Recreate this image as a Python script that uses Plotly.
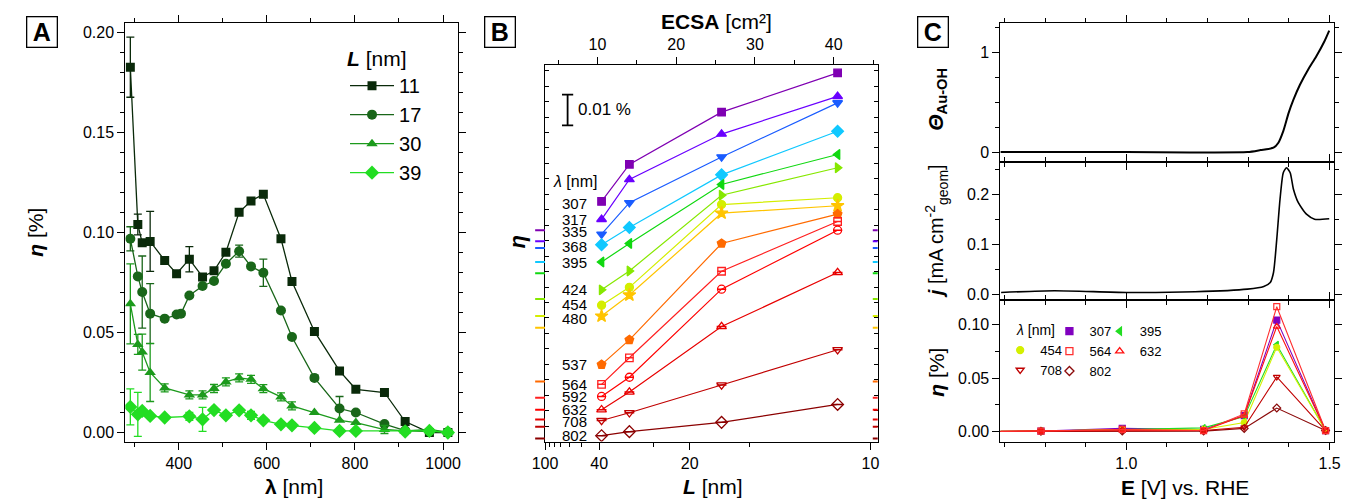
import plotly.graph_objects as go

# =========================== DATA ===========================
# ---- Panel A: eta vs wavelength for four thicknesses L [nm]
A_NAMES = ["11", "17", "30", "39"]
A_WL = [290, 307, 317, 335, 368, 395, 405, 424, 454, 480, 507, 537, 564, 592,
        632, 657, 708, 765, 802, 867, 914, 969, 1011]
A_ETA_11 = [0.1825, 0.1039, 0.0948, 0.0955, 0.0860, 0.0793, None, 0.0866, 0.0777, 0.0808,
            0.0901, 0.1100, 0.1157, 0.1190, 0.0968, 0.0755, 0.0505, 0.0308, 0.0216,
            0.0200, 0.0055, 0.0000, 0.0000]
A_ERR_11 = [0.015, 0.0052, None, 0.015, None, None, None, 0.0063, None, None,
            None, None, None, None, None, None, None, None, None,
            None, None, None, None]
A_ETA_17 = [0.0968, 0.0780, 0.0702, 0.0594, 0.0569, 0.0590, 0.0594, 0.0685, 0.0732, 0.0757,
            0.0843, 0.0906, 0.0830, 0.0798, 0.0610, 0.0477, 0.0273, 0.0120, 0.0100,
            0.0042, 0.0010, 0.0005, 0.0003]
A_ERR_17 = [0.006, None, 0.018, 0.015, None, None, None, None, None, None,
            None, 0.003, None, 0.0068, None, None, 0.0012, 0.006, None,
            None, None, None, None]
A_ETA_30 = [0.0643, 0.0440, 0.0402, 0.0300, 0.0223, None, None, 0.0188, 0.0188, 0.0220,
            0.0253, 0.0273, 0.0266, 0.0219, 0.0178, 0.0133, 0.0100, 0.0061, 0.0050,
            0.0015, 0.0008, 0.0015, 0.0002]
A_ERR_30 = [0.020, 0.005, 0.009, 0.0145, 0.002, None, None, 0.002, 0.002, 0.002,
            0.002, 0.002, 0.002, 0.002, 0.002, 0.002, None, None, None,
            0.002, None, None, None]
A_ETA_39 = [0.0128, 0.0091, 0.0108, 0.0083, 0.0075, None, None, 0.0081, 0.0066, 0.0112,
            0.0086, 0.0111, 0.0086, 0.0061, 0.0041, 0.0036, 0.0023, 0.0008, 0.0008,
            None, 0.0005, 0.0008, 0.0000]
A_ERR_39 = [0.009, 0.011, None, None, None, None, None, 0.002, 0.006, None,
            None, None, 0.002, None, None, None, None, None, None,
            None, None, None, None]

# ---- Panel B: eta vs L (offset for clarity) for 14 wavelengths
B_L = [39, 30, 17, 11]
B_ECSA = [10.4, 14.0, 25.7, 40.4]   # cm^2, top axis
B_WL = [307, 317, 335, 368, 395, 424, 454, 480, 537, 564, 592, 632, 708, 802]
B_ETA = [
    [0.0093, 0.0213, 0.0382, 0.0509],
    [0.0071, 0.0200, 0.0347, 0.0469],
    [0.0045, 0.0147, 0.0295, 0.0470],
    [0.0056, 0.0112, 0.0282, 0.0423],
    [0.0036, 0.0096, 0.0287, 0.0384],
    [0.0030, 0.0091, 0.0336, 0.0425],
    [0.0035, 0.0093, 0.0361, 0.0383],
    [0.0038, 0.0106, 0.0371, 0.0395],
    [0.0055, 0.0135, 0.0447, 0.0542],
    [0.0043, 0.0129, 0.0409, 0.0570],
    [0.0043, 0.0105, 0.0390, 0.0581],
    [0.0032, 0.0089, 0.0301, 0.0476],
    [0.0020, 0.0045, 0.0135, 0.0249],
    [0.0009, 0.0022, 0.0052, 0.0110],
]
B_OFFSET = [0.0684, 0.0648, 0.0626, 0.0581, 0.0545, 0.0461, 0.0406, 0.0368,
            0.0194, 0.0142, 0.0103, 0.0071, 0.0048, 0.0010]
B_TICK_L = [100, 40, 20, 10]
B_MINOR_L = [90, 80, 70, 60, 50, 25, 15]
B_ECSA_TICKS = [10, 20, 30, 40]
SCALE_BAR = 0.01  # %

# ---- Panel C: potential dependence
C_E_THETA = [0.69, 1.00, 1.298, 1.330, 1.362, 1.374, 1.386, 1.399, 1.411, 1.427,
             1.447, 1.467, 1.487, 1.499]
C_THETA = [0.0, 0.0, 0.0, 0.02, 0.044, 0.094, 0.21, 0.39, 0.525, 0.674,
           0.824, 0.956, 1.106, 1.215]
C_E_J = [0.692, 0.823, 1.0, 1.169, 1.298, 1.338, 1.354, 1.362, 1.370, 1.378,
         1.386, 1.394, 1.403, 1.411, 1.423, 1.443, 1.463, 1.499]
C_J = [0.0033, 0.0067, 0.0033, 0.0047, 0.010, 0.0153, 0.0233, 0.0433, 0.110, 0.190,
       0.243, 0.253, 0.243, 0.210, 0.183, 0.160, 0.150, 0.151]
C_E = [0.59, 0.79, 0.99, 1.19, 1.29, 1.37, 1.49]
C_WL = [307, 395, 454, 564, 632, 708, 802]
C_ETA = [
    [0.0, 0.0005, 0.0030, 0.0020, 0.0150, 0.1040, 0.0010],
    [0.0, 0.0005, 0.0020, 0.0035, 0.0140, 0.0810, 0.0010],
    [0.0, 0.0005, 0.0020, 0.0020, 0.0085, 0.0787, 0.0010],
    [0.0, 0.0005, 0.0020, 0.0010, 0.0165, 0.1165, 0.0010],
    [0.0, 0.0005, 0.0015, 0.0010, 0.0150, 0.0980, 0.0010],
    [0.0, 0.0003, 0.0010, 0.0010, 0.0040, 0.0510, 0.0010],
    [0.0, 0.0003, 0.0005, 0.0005, 0.0030, 0.0220, 0.0010],
]

# =========================== STYLE ===========================
W, H = 1351, 501
FONT = "Liberation Sans, Arial, sans-serif"


def px(x):
    return x / W


def py(y):
    return 1 - y / H


A_COLORS = ["#0a2a0a", "#196619", "#1c9a1c", "#22dd22"]
A_SYMBOLS = ["square", "circle", "triangle-up", "diamond"]
A_SIZES = [9, 10, 10, 11]

B_COLORS = ["#7f00b2", "#6a00ff", "#1a5cff", "#10c8ff", "#10d810", "#86e800", "#d4ee00",
            "#ffc400", "#ff6a00", "#ff2020", "#ff0000", "#e80000", "#c00000", "#8b0000"]
B_SYMBOLS = ["square", "triangle-up", "triangle-down", "diamond", "triangle-left",
             "triangle-right", "circle", "star", "pentagon", "square-open", "circle-open",
             "triangle-up-open", "triangle-down-open", "diamond-open"]
B_SIZES = [7.5, 8.5, 8.5, 9, 8.5, 8.5, 8, 9.5, 9, 7.5, 8, 8.5, 8.5, 9]
# vertical nudge (px) of the wavelength labels relative to their first marker
B_LABEL_DY = [-2.5, 0, 2.5, -1.5, 0, 0, 1, -2.5, 0, 0, 0, 0, -1.3, 0]

C_COLORS = {307: "#8000bf", 395: "#22dd22", 454: "#d4f000", 564: "#ff3030",
            632: "#ff1010", 708: "#c00000", 802: "#8b0a0a"}
C_SYMBOLS = {307: "square", 395: "triangle-left", 454: "circle", 564: "square-open",
             632: "triangle-up-open", 708: "triangle-down-open", 802: "diamond-open"}
# legend columns (three small vertical legends side by side)
C_LEGEND = {454: "legend2", 708: "legend2",
            307: "legend3", 564: "legend3", 802: "legend3",
            395: "legend4", 632: "legend4"}
C_LEGEND_ORDER = [454, 708, 307, 564, 802, 395, 632]
C_DRAW_ORDER = [307, 395, 454, 802, 708, 632, 564]

fig = go.Figure()

# ---------------- Panel A ----------------
for name, eta, err, col, sym, size in zip(
        A_NAMES, [A_ETA_11, A_ETA_17, A_ETA_30, A_ETA_39],
        [A_ERR_11, A_ERR_17, A_ERR_30, A_ERR_39], A_COLORS, A_SYMBOLS, A_SIZES):
    idx = [i for i in range(len(A_WL)) if err[i] is not None and eta[i] is not None]
    fig.add_trace(go.Scatter(
        x=[A_WL[i] for i in idx], y=[eta[i] for i in idx], mode="markers",
        marker=dict(size=1, color="rgba(0,0,0,0)"),
        error_y=dict(type="data", array=[err[i] for i in idx], color=col,
                     thickness=1.3, width=4),
        showlegend=False, hoverinfo="skip", xaxis="x", yaxis="y"))
    fig.add_trace(go.Scatter(
        x=A_WL, y=eta, mode="lines+markers", connectgaps=True, name=name,
        line=dict(color=col, width=1.3),
        marker=dict(symbol=sym, size=size, color=col),
        legend="legend", xaxis="x", yaxis="y"))

# ---------------- Panel B ----------------
B_X = [1.0 / L for L in B_L]
for k, wl in enumerate(B_WL):
    y = [B_OFFSET[k] + e for e in B_ETA[k]]
    col = B_COLORS[k]
    fig.add_trace(go.Scatter(
        x=B_X, y=y, mode="lines+markers", showlegend=False,
        line=dict(color=col, width=1.2),
        marker=dict(symbol=B_SYMBOLS[k], size=B_SIZES[k], color=col,
                    line=dict(color=col, width=1.3)),
        xaxis="x2", yaxis="y2"))
    if B_SYMBOLS[k].endswith("-open"):
        fig.add_trace(go.Scatter(
            x=B_X, y=y, mode="markers", showlegend=False, hoverinfo="skip",
            marker=dict(symbol="line-ew", size=B_SIZES[k] - 1.5,
                        line=dict(color=col, width=1.5)),
            xaxis="x2", yaxis="y2"))

# invisible companion on the ECSA (top) axis so that axis is drawn
fig.add_trace(go.Scatter(
    x=B_ECSA, y=[B_OFFSET[0] + e for e in B_ETA[0]], mode="markers",
    marker=dict(size=1, color="rgba(0,0,0,0)"), showlegend=False, hoverinfo="skip",
    xaxis="x3", yaxis="y2"))

# scale bar (0.01 %)
SB_X = 0.01625
SB_Y0 = 0.1023
fig.add_trace(go.Scatter(
    x=[SB_X, SB_X], y=[SB_Y0, SB_Y0 + SCALE_BAR], mode="lines+markers",
    showlegend=False, hoverinfo="skip",
    line=dict(color="black", width=1.8),
    marker=dict(symbol="line-ew", size=8, line=dict(color="black", width=1.8)),
    xaxis="x2", yaxis="y2"))

# ---------------- Panel C ----------------
fig.add_trace(go.Scatter(
    x=C_E_THETA, y=C_THETA, mode="lines", showlegend=False,
    line=dict(color="black", width=2, shape="spline", smoothing=0.6),
    xaxis="x4", yaxis="y4"))
fig.add_trace(go.Scatter(
    x=C_E_J, y=C_J, mode="lines", showlegend=False,
    line=dict(color="black", width=1.6, shape="spline", smoothing=0.6),
    xaxis="x5", yaxis="y5"))

for wl in C_DRAW_ORDER:
    k = C_WL.index(wl)
    col = C_COLORS[wl]
    fig.add_trace(go.Scatter(
        x=C_E, y=C_ETA[k], mode="lines+markers", showlegend=False,
        line=dict(color=col, width=1.1),
        marker=dict(symbol=C_SYMBOLS[wl], size=6, color=col, line=dict(color=col, width=1.2)),
        xaxis="x6", yaxis="y6"))
for wl in C_LEGEND_ORDER:
    col = C_COLORS[wl]
    fig.add_trace(go.Scatter(
        x=[None], y=[None], mode="markers", name=str(wl), legend=C_LEGEND[wl],
        marker=dict(symbol=C_SYMBOLS[wl], size=7, color=col, line=dict(color=col, width=1.3)),
        xaxis="x6", yaxis="y6"))

# =========================== LAYOUT ===========================
TICKFONT = dict(family=FONT, size=16, color="black")


def axis(**kw):
    d = dict(showgrid=False, zeroline=False, showline=True, linecolor="black",
             linewidth=1, mirror="ticks", ticks="outside", ticklen=7, tickwidth=1,
             tickcolor="black", tickfont=TICKFONT)
    d.update(kw)
    return d


def minor(**kw):
    d = dict(ticks="outside", ticklen=4, tickwidth=1, tickcolor="black", showgrid=False)
    d.update(kw)
    return d


C_XDOM = [px(1002.3), px(1340.7)]
C_XRANGE = [0.6904, 1.5104]

layout = dict(
    width=W, height=H, margin=dict(l=0, r=0, t=0, b=0),
    paper_bgcolor="white", plot_bgcolor="white",
    font=dict(family=FONT, size=16, color="black"),
    hovermode=False,
    # Panel A
    xaxis=axis(domain=[px(114), px(451.7)], range=[278.6, 1034], dtick=200, tick0=0,
               minor=minor(dtick=100), anchor="y"),
    yaxis=axis(domain=[py(443.3), py(22.7)], range=[-0.0045, 0.2048], dtick=0.05, tick0=0,
               tickformat=".2f", minor=minor(dtick=0.01), anchor="x"),
    # Panel B
    xaxis2=axis(domain=[px(540), px(877.7)], range=[0.01, 0.102], mirror=False,
                tickmode="array", tickvals=[1.0 / v for v in B_TICK_L],
                ticktext=[str(v) for v in B_TICK_L],
                minor=minor(tickmode="array", tickvals=[1.0 / v for v in B_MINOR_L]),
                anchor="y2"),
    xaxis3=axis(overlaying="x2", side="top", range=[3.34, 45.59], mirror=False,
                tickmode="array", tickvals=B_ECSA_TICKS,
                minor=minor(dtick=5, tick0=0), anchor="y2"),
    yaxis2=axis(domain=[py(443.3), py(65)], range=[0, 0.12194], showticklabels=False,
                ticks="inside", ticklen=4, dtick=0.005, tick0=0, anchor="x2"),
    # Panel C
    xaxis4=axis(domain=C_XDOM, range=C_XRANGE, dtick=0.5, tick0=0, showticklabels=False,
                minor=minor(dtick=0.1, tick0=0), anchor="y4"),
    yaxis4=axis(domain=[py(162.7), py(22.7)], range=[-0.0996, 1.2948], dtick=1, tick0=0,
                minor=minor(dtick=0.25, tick0=0), anchor="x4"),
    xaxis5=axis(domain=C_XDOM, range=C_XRANGE, dtick=0.5, tick0=0, showticklabels=False,
                minor=minor(dtick=0.1, tick0=0), anchor="y5"),
    yaxis5=axis(domain=[py(301.7), py(162.7)], range=[-0.0128, 0.2644], dtick=0.1, tick0=0,
                tickformat=".1f", minor=minor(dtick=0.05, tick0=0), anchor="x5"),
    xaxis6=axis(domain=C_XDOM, range=C_XRANGE, dtick=0.5, tick0=0, tickformat=".1f",
                minor=minor(dtick=0.1, tick0=0), anchor="y6"),
    yaxis6=axis(domain=[py(444), py(301.7)], range=[-0.0099, 0.1223], dtick=0.05, tick0=0,
                tickformat=".2f", minor=minor(dtick=0.025, tick0=0), anchor="x6"),
    legend=dict(x=px(337), y=py(39), xanchor="left", yanchor="top",
                font=dict(family=FONT, size=20, color="black"),
                title=dict(text="<b><i>L</i></b> [nm]", font=dict(family=FONT, size=21)),
                itemwidth=44, bgcolor="rgba(0,0,0,0)", tracegroupgap=0),
)
LEG_C = dict(orientation="v", xanchor="left", yanchor="top",
             font=dict(family=FONT, size=13, color="black"), itemwidth=30,
             bgcolor="rgba(0,0,0,0)", tracegroupgap=0, traceorder="normal")
layout["legend2"] = dict(LEG_C, x=px(1002), y=py(336.5))
layout["legend3"] = dict(LEG_C, x=px(1052), y=py(317.5))
layout["legend4"] = dict(LEG_C, x=px(1103), y=py(317.5))

# ---- annotations
ann = []


def label(text, x, y, size=21, angle=0, xanchor="center", yanchor="middle", **kw):
    d = dict(text=text, x=px(x), y=py(y), xref="paper", yref="paper", showarrow=False,
             font=dict(family=FONT, size=size, color="black"), textangle=angle,
             xanchor=xanchor, yanchor=yanchor)
    d.update(kw)
    ann.append(d)


for letter, cx in [("A", 29.2), ("B", 494.5), ("C", 934)]:
    label("<b>%s</b>" % letter, cx, 32.3, size=25, width=29, height=29, borderpad=0,
          bordercolor="black", borderwidth=1.3)

label("<b><i>η</i></b> [%]", 22, 233, angle=-90)
label("<b>λ</b> [nm]", 285, 488)
label("<b><i>L</i></b> [nm]", 711, 488)
label("<b>ECSA</b> [cm²]", 714, 22)
label("<b><i>η</i></b>", 512, 243, size=22, angle=-90)
label("<b>E</b> [V] vs. RHE", 1190, 489)
label("<b><i>Θ</i><sub>Au-OH</sub></b>", 937, 100, angle=-90)
label("<b><i>j</i></b> [mA cm<sup>-2</sup><sub>geom</sub>]", 937, 232, size=20, angle=-90)
label("<b><i>η</i></b> [%]", 937, 374, angle=-90)
label("0.01 %", 571, 110, size=17, xanchor="left")
label("<i>λ</i> [nm]", 546, 182, size=16, xanchor="left")
label("<i>λ</i> [nm]", 1016, 331, size=14, xanchor="left")

for k, wl in enumerate(B_WL):
    ann.append(dict(text=str(wl), x=B_X[0], y=B_OFFSET[k] + B_ETA[k][0], xref="x2", yref="y2",
                    showarrow=False, xanchor="right", yanchor="middle", xshift=-13,
                    yshift=B_LABEL_DY[k],
                    font=dict(family=FONT, size=15, color="black")))

layout["annotations"] = ann

# ---- colored baseline ticks on panel B sides
shapes = []
for k, wl in enumerate(B_WL):
    col = B_COLORS[k]
    shapes.append(dict(type="line", xref="paper", yref="y2", x0=px(530), x1=px(540),
                       y0=B_OFFSET[k], y1=B_OFFSET[k], line=dict(color=col, width=2)))
    shapes.append(dict(type="line", xref="paper", yref="y2", x0=px(872.7), x1=px(877.7),
                       y0=B_OFFSET[k], y1=B_OFFSET[k], line=dict(color=col, width=2)))
layout["shapes"] = shapes

fig.update_layout(**layout)
fig.write_html("out.html")
